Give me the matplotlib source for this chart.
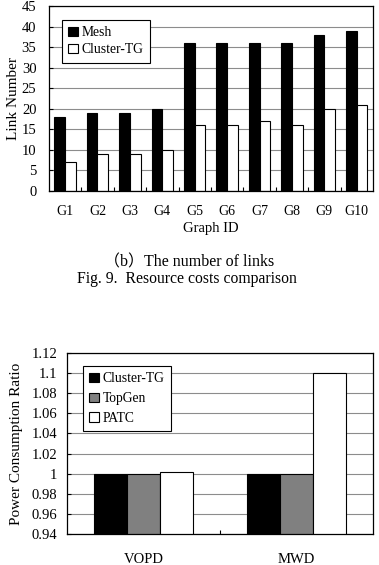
"""Link numbers and power consumption ratio bar charts."""

import matplotlib
matplotlib.use('Agg')
import matplotlib.pyplot as plt
import numpy as np


graph_ids = ['G1', 'G2', 'G3', 'G4', 'G5', 'G6', 'G7', 'G8', 'G9', 'G10']
mesh_links = [18, 19, 19, 20, 36, 36, 36, 36, 38, 39]
cluster_links = [7, 9, 9, 10, 16, 16, 17, 16, 20, 21]

apps = ['VOPD', 'MWD']
power_cluster_tg = [1.0, 1.0]
power_topgen = [1.0, 1.0]
power_patc = [1.002, 1.1]

plt.rcParams['font.family'] = ['Liberation Serif', 'Noto Sans CJK SC']
plt.rcParams['axes.linewidth'] = 0.9

GRID = '#8c8c8c'


def _style_axes(ax, n_groups, ypad):
    ax.set_xlim(-0.5, n_groups - 0.5)
    ax.set_xticks(np.arange(n_groups - 1) + 0.5)
    ax.set_xticklabels([])
    ax.set_xticks(np.arange(n_groups), minor=True)
    ax.tick_params(axis='x', which='major', direction='in', length=3,
                   width=0.8)
    ax.tick_params(axis='x', which='minor', length=0, pad=10, labelsize=10)
    ax.tick_params(axis='y', direction='in', length=3, width=0.8,
                   labelsize=10.5, pad=ypad)
    ax.yaxis.grid(True, color=GRID, linewidth=0.8)
    ax.set_axisbelow(True)


def _legend(ax, anchor, spacing):
    leg = ax.legend(loc='upper left', bbox_to_anchor=anchor,
                    borderaxespad=0, fontsize=9.8, fancybox=False,
                    framealpha=1, edgecolor='black', handlelength=0.7,
                    handleheight=0.7, handletextpad=0.3, borderpad=0.45,
                    labelspacing=spacing)
    leg.get_frame().set_linewidth(0.8)


fig = plt.figure(figsize=(3.79, 5.65), dpi=100)

# top chart: number of links
ax1 = fig.add_axes([0.129, 0.662, 0.855, 0.327])
x = np.arange(len(graph_ids))
w = 0.33
ax1.bar(x - w / 2, mesh_links, w, color='black', edgecolor='black',
        linewidth=0.8, label='Mesh')
ax1.bar(x + w / 2, cluster_links, w, color='white', edgecolor='black',
        linewidth=0.8, label='Cluster-TG')
_style_axes(ax1, len(graph_ids), 9)
ax1.set_xticklabels(graph_ids, minor=True)
ax1.set_ylim(0, 45)
ax1.set_yticks(np.arange(0, 46, 5))
ax1.set_ylabel('Link Number', fontsize=11, labelpad=1)
ax1.set_xlabel('Graph ID', fontsize=10.5, labelpad=3)
_legend(ax1, (0.04, 0.924), 0.3)

fig.text(0.5, 0.536, '（b）The number of links', ha='center', va='center',
         fontsize=11.5)
fig.text(0.492, 0.506, 'Fig. 9.  Resource costs comparison', ha='center',
         va='center', fontsize=11.3)

# bottom chart: power consumption ratio
ax2 = fig.add_axes([0.177, 0.055, 0.807, 0.32])
x2 = np.arange(len(apps))
w2 = 0.215
ax2.bar(x2 - w2, power_cluster_tg, w2, color='black', edgecolor='black',
        linewidth=0.8, label='Cluster-TG')
ax2.bar(x2, power_topgen, w2, color='#808080', edgecolor='black',
        linewidth=0.8, label='TopGen')
ax2.bar(x2 + w2, power_patc, w2, color='white', edgecolor='black',
        linewidth=0.8, label='PATC')
_style_axes(ax2, len(apps), 7)
ax2.set_xticklabels(apps, minor=True)
ax2.tick_params(axis='x', which='minor', pad=14, labelsize=10.5)
ax2.set_ylim(0.94, 1.12)
ax2.set_yticks(np.arange(0.94, 1.121, 0.02))
ax2.set_yticklabels(['0.94', '0.96', '0.98', '1', '1.02', '1.04', '1.06',
                     '1.08', '1.1', '1.12'])
ax2.set_ylabel('Power Consumption Ratio', fontsize=11, labelpad=6)
_legend(ax2, (0.052, 0.928), 0.5)

fig.savefig('out.png', dpi=100)
